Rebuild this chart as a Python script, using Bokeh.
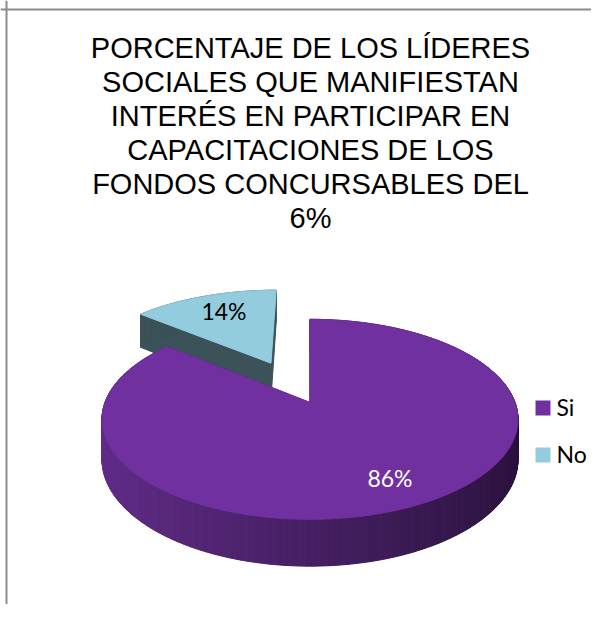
import numpy as np
from bokeh.plotting import figure
from bokeh.models import Range1d, Span
from bokeh.core.properties import value
from bokeh.embed import file_html
from bokeh.resources import INLINE

# ---------------- data ----------------
categories = ["Si", "No"]
values = [86, 14]
pct_labels = ["86%", "14%"]
title_lines = [
    "PORCENTAJE DE LOS LÍDERES",
    "SOCIALES QUE MANIFIESTAN",
    "INTERÉS EN PARTICIPAR EN",
    "CAPACITACIONES DE LOS",
    "FONDOS CONCURSABLES DEL",
    "6%",
]

# ---------------- style ----------------
top_colors = ["#7030A0", "#93CDDD"]
side_left = [(98, 45, 138), (60, 82, 89)]
side_right = [(42, 18, 60), (60, 82, 89)]
label_colors = ["white", "black"]
explode = [0.0, 0.48]

# projection of the 3D pie (pixel-like data space, y grows downward)
CX, CY = 309.5, 402.0
A = 205.0
SIN_PHI = 0.474
U = 0.168
DEPTH = 39.0
LABEL_R = 0.76
LABEL_DX = 5.0


def proj(X, D, down=0.0):
    s = 1.0 / (1.0 + U * np.asarray(D))
    return CX + s * np.asarray(X) * A, CY - s * np.asarray(D) * A * SIN_PHI + s * down


def hexc(rgb):
    return "#%02x%02x%02x" % tuple(int(round(c)) for c in rgb)


p = figure(width=591, height=604, output_backend="svg", toolbar_location=None,
           x_range=Range1d(0, 591), y_range=Range1d(604, 0), min_border=0)
p.axis.visible = False
p.grid.visible = False
p.outline_line_color = None
p.background_fill_color = "white"

total = float(sum(values))
starts, ends = [], []
cum = 0.0
for v in values:
    starts.append(90.0 - cum / total * 360.0)
    cum += v
    ends.append(90.0 - cum / total * 360.0)

# draw back slice (No) first, then the front slice (Si)
order = [1, 0]
label_pos = {}
for i in order:
    t0, t1 = starts[i], ends[i]
    mid = np.radians((t0 + t1) / 2.0)
    ox, od = explode[i] * np.cos(mid), explode[i] * np.sin(mid)
    n = max(3, int(abs(t0 - t1) * 2))
    th = np.radians(np.linspace(t0, t1, n))
    X = ox + np.cos(th)
    D = od + np.sin(th)
    tx, ty = proj(X, D)
    bx, by = proj(X, D, DEPTH)
    cx_t, cy_t = proj(ox, od)
    cx_b, cy_b = proj(ox, od, DEPTH)

    xs, ys, cols = [], [], []
    # radial faces
    for k in (0, n - 1):
        xs.append([float(cx_t), float(tx[k]), float(bx[k]), float(cx_b)])
        ys.append([float(cy_t), float(ty[k]), float(by[k]), float(cy_b)])
        cols.append(hexc([(l + r) / 2 for l, r in zip(side_left[i], side_right[i])]))
    # outer wall strips with shading
    for k in range(n - 1):
        xs.append([float(tx[k]), float(tx[k + 1]), float(bx[k + 1]), float(bx[k])])
        ys.append([float(ty[k]), float(ty[k + 1]), float(by[k + 1]), float(by[k])])
        t = (np.cos((th[k] + th[k + 1]) / 2) + 1) / 2
        c = [l + (r - l) * t for l, r in zip(side_left[i], side_right[i])]
        cols.append(hexc(c))
    p.patches(xs, ys, fill_color=cols, line_color=cols, line_width=1)

    # top face
    p.patch(np.concatenate([[cx_t], tx]), np.concatenate([[cy_t], ty]),
            fill_color=top_colors[i], line_color=top_colors[i], line_width=1)

    lx, ly = proj(ox + LABEL_R * np.cos(mid), od + LABEL_R * np.sin(mid))
    label_pos[i] = (float(lx) + LABEL_DX, float(ly))

# percentage labels
p.text(x=[label_pos[i][0] for i in range(len(values))],
       y=[label_pos[i][1] for i in range(len(values))],
       text=pct_labels, text_align="center", text_baseline="middle",
       text_font=value("Lato"), text_font_size="23px",
       text_color=label_colors)

# legend
leg_y = [407.5 + 47.0 * k for k in range(len(categories))]
p.scatter(x=[542.5] * len(categories), y=leg_y, marker="square", size=15,
          fill_color=top_colors, line_color=None)
p.text(x=[556.0] * len(categories), y=[v - 1.0 for v in leg_y], text=categories,
       text_align="left", text_baseline="middle",
       text_font=value("Lato"), text_font_size="23px", text_color="black")

# title
p.text(x=[310.0] * len(title_lines), y=[47.0 + 34.0 * k for k in range(len(title_lines))],
       text=title_lines, text_align="center", text_baseline="middle",
       text_font=value("Liberation Sans"), text_font_size="29px", text_color="black")

# chart border (top and left visible)
p.add_layout(Span(location=9, dimension="width", line_color="#8c8c8c", line_width=2))
p.add_layout(Span(location=6, dimension="height", line_color="#8c8c8c", line_width=2))

open("out.html", "w").write(file_html(p, INLINE))
